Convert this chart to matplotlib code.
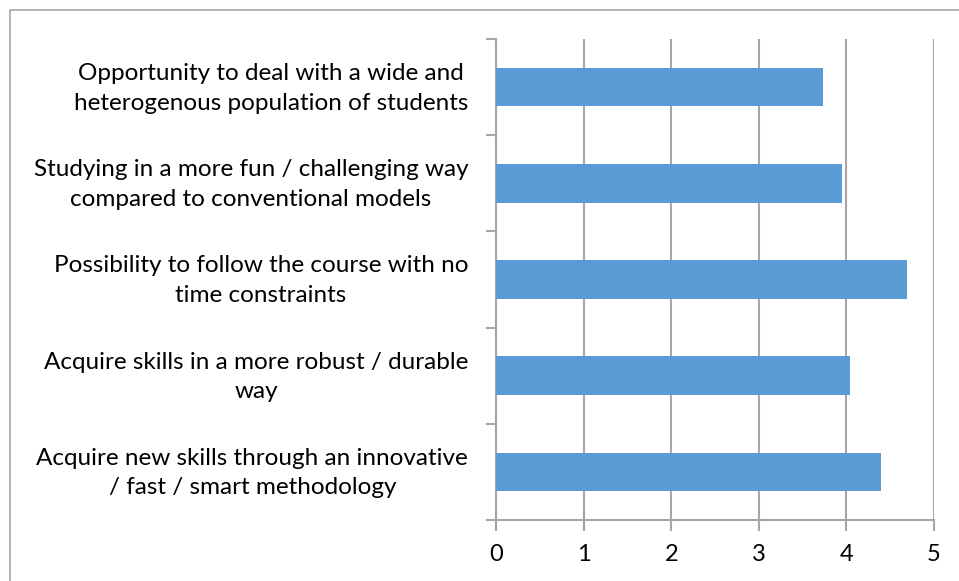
import matplotlib.pyplot as plt
import matplotlib.transforms as mtransforms

# Survey items (bottom to top) and mean scores
labels = [
    'Acquire new skills through an innovative\n/ fast / smart methodology',
    'Acquire skills in a more robust / durable\nway',
    'Possibility to follow the course with no\ntime constraints',
    'Studying in a more fun / challenging way\ncompared to conventional models',
    'Opportunity to deal with a wide and\nheterogenous population of students',
]
scores = [4.40, 4.04, 4.69, 3.95, 3.73]
xticks = [0, 1, 2, 3, 4, 5]

plt.rcParams['font.family'] = ['Lato', 'DejaVu Sans']

fig = plt.figure(figsize=(9.59, 5.81), dpi=100)
ax = fig.add_axes([496 / 959, 61 / 581, 438 / 959, 481 / 581])

# outer chart border (right and bottom edges fall outside the image)
fig.patches.append(plt.Rectangle((9.5 / 959, -10 / 581), 1000 / 959, 581 / 581,
                                 transform=fig.transFigure, fill=False,
                                 edgecolor='#a6a6a6', linewidth=1.2))

grid_color = '#a6a6a6'
pos = list(range(len(labels)))
ax.barh(pos, scores, height=0.4, color='#5b9bd5', zorder=3)

ax.set_xlim(0, 5)
ax.set_ylim(-0.5, len(labels) - 0.5)
ax.set_xticks(xticks)
ax.xaxis.grid(True, color=grid_color, linewidth=1.5, zorder=0)

# category tick marks sit between bars, labels centred on bars
ax.set_yticks([p - 0.5 for p in pos] + [len(labels) - 0.5])
ax.set_yticklabels([])
ax.set_yticks(pos, minor=True)
ax.set_yticklabels(labels, minor=True, fontsize=17.5, multialignment='center',
                   linespacing=1.5)
ax.tick_params(axis='y', which='minor', length=0, pad=20)
ax.tick_params(axis='y', which='major', length=7, color=grid_color, width=1.5)
ax.tick_params(axis='x', length=8, color=grid_color, width=1.5, labelsize=17, pad=9)

# nudge category labels up a little
shift = mtransforms.ScaledTranslation(0, 0.05, fig.dpi_scale_trans)
for lbl in ax.get_yticklabels(minor=True):
    lbl.set_transform(lbl.get_transform() + shift)

for side in ['top', 'right']:
    ax.spines[side].set_visible(False)
for side in ['left', 'bottom']:
    ax.spines[side].set_color(grid_color)
    ax.spines[side].set_linewidth(1.5)

fig.savefig('out.png', dpi=100)
